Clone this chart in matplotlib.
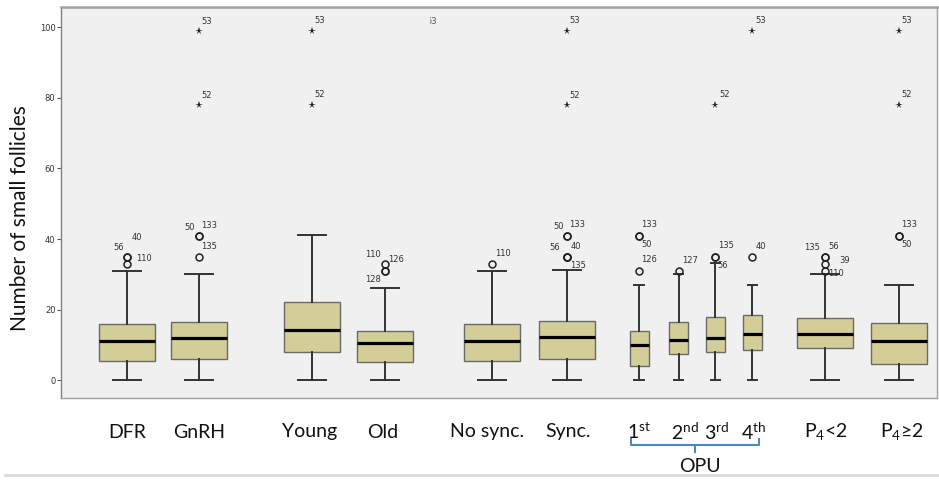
import numpy as np
import matplotlib.pyplot as plt
from matplotlib.lines import Line2D
from matplotlib.transforms import Bbox, TransformedBbox

# box statistics
groups = ["DFR", "GnRH", "Young", "Old", "No sync.", "Sync.",
          "1st", "2nd", "3rd", "4th", "P4<2", "P4>=2"]
q1 = [5.5, 6.0, 8.1, 5.1, 5.5, 6.1, 4.2, 7.5, 8.0, 8.5, 9.1, 4.5]
med = [11.0, 12.0, 14.2, 10.6, 11.0, 12.2, 10.1, 11.4, 12.0, 13.2, 13.2, 11.1]
q3 = [16.0, 16.5, 22.2, 14.1, 16.0, 16.7, 14.0, 16.5, 18.0, 18.6, 17.6, 16.1]
whislo = [0, 0, 0.2, 0, 0, 0.2, 0, 0, 0, 0, 0, 0]
whishi = [31.0, 30.0, 41.2, 26.1, 31.0, 31.2, 27.1, 30.1, 33.1, 27.1, 30.2, 27.1]

# outliers (circles) and extremes (stars), with case numbers
out_vals = [[35, 35, 33], [41, 41, 35], [], [33, 31, 31], [33],
            [41, 41, 35, 35, 35], [41, 41, 31], [31], [35, 35], [35],
            [35, 35, 33, 31], [41, 41]]
out_ids = [["56", "40", "110"], ["50", "133", "135"], [], ["110", "126", "128"], ["110"],
           ["50", "133", "56", "40", "135"], ["133", "50", "126"], ["127"], ["135", "56"], ["40"],
           ["135", "56", "39", "110"], ["133", "50"]]
ext_vals = [[], [99, 78], [99, 78], [], [], [99, 78], [], [], [78], [99], [], [99, 78]]
ext_ids = [[], ["53", "52"], ["53", "52"], [], [], ["53", "52"], [], [], ["52"], ["53"], [], ["53", "52"]]

# layout (pixels)
positions = [127.3, 198.7, 311.7, 385, 491.7, 567, 639, 678.7, 715.3, 752.3, 825, 899]
widths = [56] * 6 + [19] * 4 + [56] * 2
out_offs = [[(-9, 9.5), (10, 19.5), (17, 5)], [(-9, 8), (10, 10), (10, 10.5)], [],
            [(-12, 9), (11, 11), (-12, -9)], [(11, 10.5)],
            [(-8, 9), (10, 11), (-12, 9.5), (9, 10.5), (11, -8.5)],
            [(10, 11), (8, -9), (10, 11)], [(11, 10.5)], [(11, 11), (7, -9)], [(9, 10.5)],
            [(-12.5, 9.5), (9, 10.5), (20, 3), (11, -2.5)], [(10, 11), (8, -9)]]
ext_offs = [[], [(8, 9), (8, 9)], [(8, 10), (8, 10)], [], [], [(8, 10), (8, 9.5)],
            [], [], [(9, 10)], [(8, 10)], [], [(8, 10), (8, 10)]]

W, H = 939, 480
fig = plt.figure(figsize=(W / 100, H / 100), dpi=100)
ax = fig.add_axes([61 / W, 1 - 398 / H, (937 - 61) / W, (398 - 7) / H])
ax.set_facecolor("#f0f0f0")

stats = []
for i in range(len(groups)):
    stats.append(dict(med=med[i], q1=q1[i], q3=q3[i], whislo=whislo[i],
                      whishi=whishi[i], fliers=[]))

ax.bxp(stats, positions=positions, widths=widths, capwidths=[w / 2 for w in widths],
       patch_artist=True, showfliers=False,
       boxprops=dict(facecolor="#d3ce97", edgecolor="#6a6a6a", linewidth=1.0),
       medianprops=dict(color="black", linewidth=2.3),
       whiskerprops=dict(color="#333333", linewidth=1.4),
       capprops=dict(color="#333333", linewidth=1.4))

lab_kw = dict(textcoords="offset pixels", ha="center", va="center",
              fontsize=6, color="#333333", family="DejaVu Sans")
for i in range(len(groups)):
    x = positions[i]
    if out_vals[i]:
        ax.plot([x] * len(out_vals[i]), out_vals[i], "o", mfc="none", mec="#222222",
                ms=5, mew=1.1, zorder=4)
    for v, t, (dx, dy) in zip(out_vals[i], out_ids[i], out_offs[i]):
        ax.annotate(t, (x, v), xytext=(dx, dy), **lab_kw)
    if ext_vals[i]:
        ax.plot([x] * len(ext_vals[i]), ext_vals[i], "*", color="#222222",
                ms=5.5, mew=0, zorder=4)
    for v, t, (dx, dy) in zip(ext_vals[i], ext_ids[i], ext_offs[i]):
        ax.annotate(t, (x, v), xytext=(dx, dy), **lab_kw)

# partly hidden "53" label at the top
t = ax.text(437, 101.7, "53", ha="right", va="center", fontsize=6,
            color="#555555", family="DejaVu Sans")
t.set_clip_on(True)
t.set_clip_box(TransformedBbox(Bbox([[429.5, 95], [441, 105]]), ax.transData))

ax.set_xlim(61, 937)
ax.set_ylim(-5, 105.7)
ax.set_xticks([])
ax.set_yticks([0, 20, 40, 60, 80, 100])
ax.tick_params(axis="y", length=3, width=0.8, color="#555555", labelsize=6,
               labelcolor="#333333", pad=1)
for s in ax.spines.values():
    s.set_color("#a0a0a0")
    s.set_linewidth(1.0)
ax.spines["top"].set_linewidth(1.8)
ax.spines["left"].set_color("#808080")

fig.text(20 / W, 1 - 218 / H, "Number of small follicles", rotation=90,
         ha="center", va="center", fontsize=15, family="Lato", color="#111111")

# category labels under the axis
xlabels = ["DFR", "GnRH", "Young", "Old", "No sync.", "Sync.",
           r"1$^{\mathregular{st}}$", r"2$^{\mathregular{nd}}$",
           r"3$^{\mathregular{rd}}$", r"4$^{\mathregular{th}}$",
           r"P$_{\mathregular{4}}$<2", r"P$_{\mathregular{4}}$≥2"]
xlab_pos = [127, 199, 310, 383, 487, 568, 639, 685, 717, 754, 826, 902]
for lab, px in zip(xlabels, xlab_pos):
    fig.text(px / W, 1 - 432 / H, lab, ha="center", va="center",
             fontsize=14, family="Lato", color="#111111")

# OPU bracket
blue = "#4a86c8"
fig.add_artist(Line2D(np.array([631, 631, 759, 759]) / W,
                      1 - np.array([439, 445, 445, 439]) / H, color=blue, lw=1.5))
fig.add_artist(Line2D([695 / W, 695 / W], [1 - 445 / H, 1 - 452 / H], color=blue, lw=1.5))
fig.text(700 / W, 1 - 466 / H, "OPU", ha="center", va="center",
         fontsize=14, family="Lato", color="#111111")

fig.add_artist(Line2D([5 / W, 1], [1 - 475 / H, 1 - 475 / H], color="#d9d9d9", lw=2))

fig.savefig("out.png", dpi=100)
